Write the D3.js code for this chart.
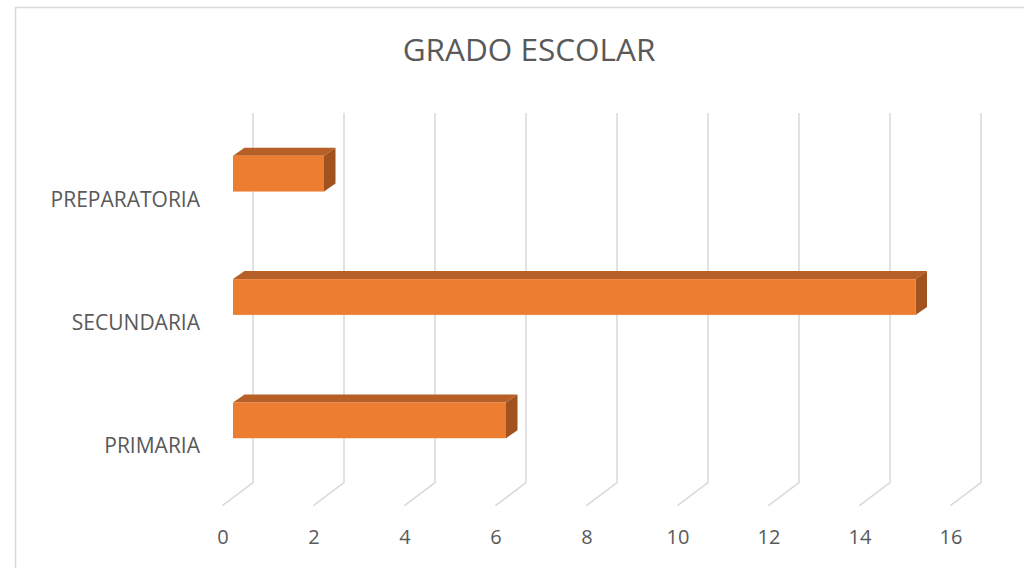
<!DOCTYPE html>
<html>
<head>
<meta charset="utf-8">
<script src="https://cdn.jsdelivr.net/npm/d3@7"></script>
<style>
  html, body { margin: 0; padding: 0; background: #fff; }
  text { font-family: 'Open Sans', sans-serif; fill: #595959; }
</style>
</head>
<body>
<div id="chart"></div>
<script>
// chart data
const categories = ['PREPARATORIA', 'SECUNDARIA', 'PRIMARIA'];
const values = [2, 15, 6];
const xTicks = [0, 2, 4, 6, 8, 10, 12, 14, 16];

const width = 1024, height = 568;

// 3D projection offsets (back wall -> front of floor)
const floorDx = -30.6, floorDy = 23;
const barFrontDx = -20, barBackDx = -8.5, barDepthDy = -8;

const svg = d3.select('#chart')
  .append('svg')
  .attr('width', width)
  .attr('height', height);

// outer chart border
svg.append('rect')
  .attr('x', 15.5).attr('y', 7.5)
  .attr('width', 1030).attr('height', 600)
  .attr('fill', 'none')
  .attr('stroke', '#d9d9d9')
  .attr('stroke-width', 1.5);

svg.append('text')
  .attr('x', 529).attr('y', 61)
  .attr('text-anchor', 'middle')
  .style('font-size', '31.5px')
  .text('GRADO ESCOLAR');

// scales on the back wall
const x = d3.scaleLinear().domain([0, 16]).range([253, 981]);
const y = d3.scaleBand()
  .domain(categories)
  .range([112, 482])
  .paddingInner(0.71)
  .paddingOuter(0.355);

const wallTop = 113, wallBottom = 482.7;

// gridlines: vertical on back wall, then diagonal across the floor
const grid = svg.append('g').attr('class', 'grid');
grid.selectAll('path')
  .data(xTicks)
  .enter().append('path')
  .attr('d', d => `M${x(d)},${wallTop}V${wallBottom}l${floorDx},${floorDy}`)
  .attr('fill', 'none')
  .attr('stroke', '#d9d9d9')
  .attr('stroke-width', 1.5);

// x axis labels at the front edge of the floor
const xFront = x.copy().range(x.range().map(v => v + floorDx));
svg.append('g')
  .attr('transform', 'translate(0,529)')
  .call(d3.axisBottom(xFront).tickValues(xTicks).tickSize(0).tickPadding(0))
  .call(g => g.select('.domain').remove())
  .call(g => g.selectAll('text')
    .attr('dy', null)
    .attr('y', 15)
    .style('font-size', '20px')
    .style('font-family', "'Open Sans', sans-serif")
    .attr('fill', '#595959'));

// category labels
svg.append('g')
  .selectAll('text')
  .data(categories)
  .enter().append('text')
  .attr('x', 200)
  .attr('y', d => y(d) + y.bandwidth() / 2 + 33)
  .attr('text-anchor', 'end')
  .style('font-size', '21px')
  .text(d => d);

// 3D bars
const bars = svg.append('g').selectAll('g')
  .data(categories.map((c, i) => ({ cat: c, value: values[i] })))
  .enter().append('g');

const dX = barBackDx - barFrontDx;

// top face
bars.append('path')
  .attr('d', d => {
    const x0 = x(0) + barFrontDx, x1 = x(d.value) + barFrontDx, y0 = y(d.cat);
    return `M${x0},${y0}L${x0 + dX},${y0 + barDepthDy}L${x1 + dX},${y0 + barDepthDy}L${x1},${y0}Z`;
  })
  .attr('fill', '#b65f26');

// right face
bars.append('path')
  .attr('d', d => {
    const x1 = x(d.value) + barFrontDx, y0 = y(d.cat), y1 = y0 + y.bandwidth();
    return `M${x1},${y0}L${x1 + dX},${y0 + barDepthDy}L${x1 + dX},${y1 + barDepthDy}L${x1},${y1}Z`;
  })
  .attr('fill', '#a1521e');

// front face
bars.append('rect')
  .attr('x', x(0) + barFrontDx)
  .attr('y', d => y(d.cat))
  .attr('width', d => x(d.value) - x(0))
  .attr('height', y.bandwidth())
  .attr('fill', '#ed7d31');
</script>
</body>
</html>
